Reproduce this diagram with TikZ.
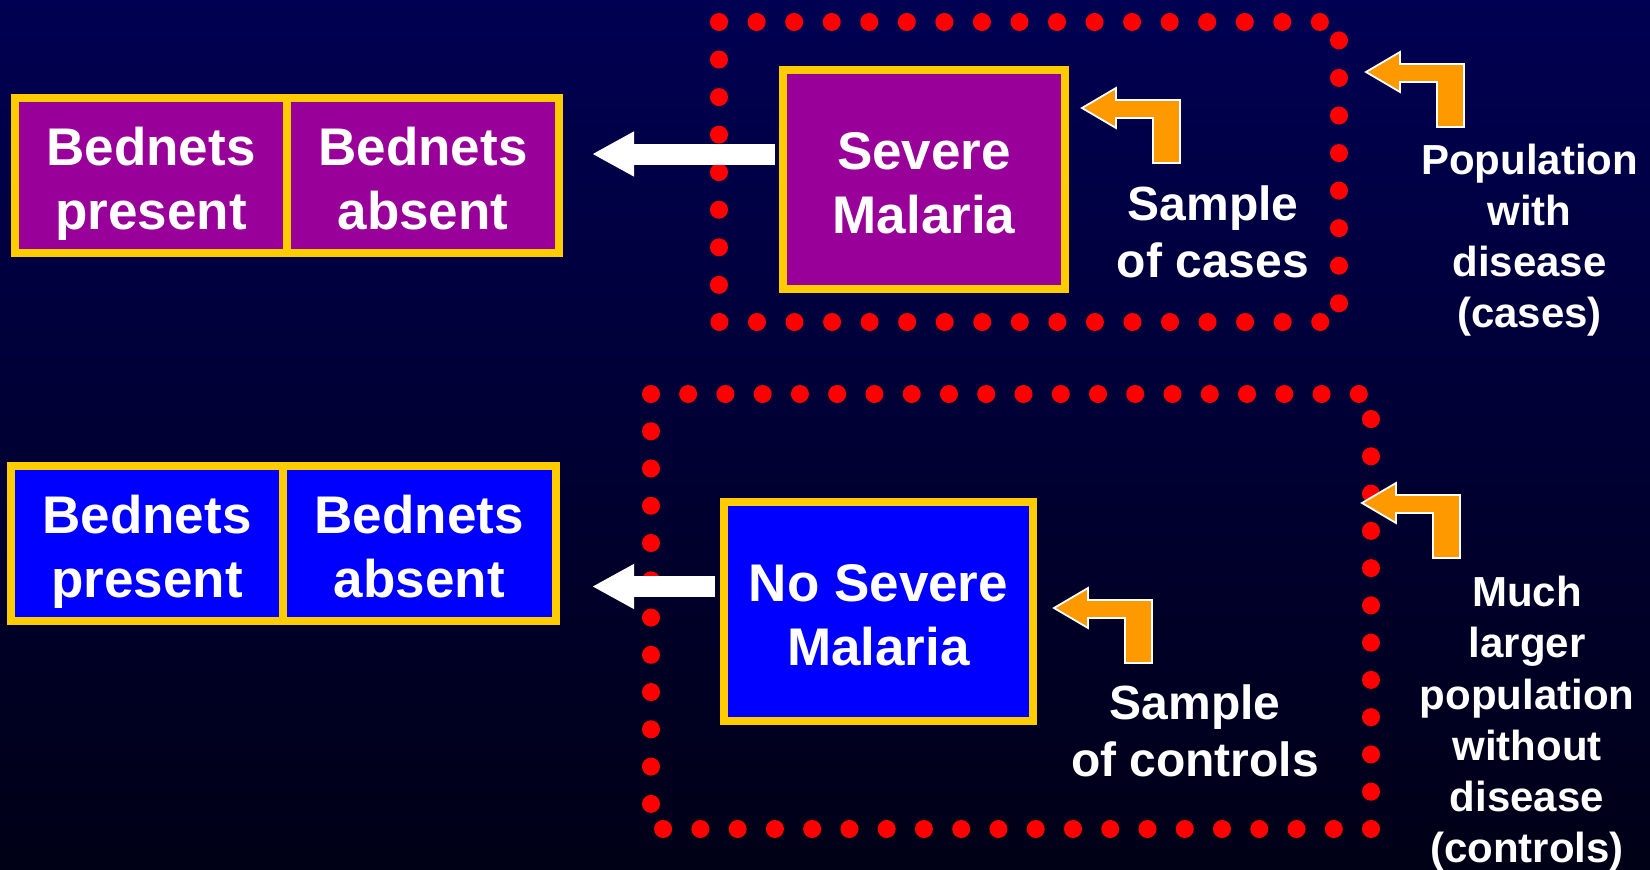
\documentclass[tikz,border=0pt]{standalone}
\usepackage{fontspec}
\setmainfont{Liberation Sans}
\usetikzlibrary{arrows.meta}
\definecolor{bgtop}{RGB}{0,0,82}
\definecolor{bgbot}{RGB}{0,0,22}
\definecolor{gold}{HTML}{FFCC00}
\definecolor{purp}{HTML}{990099}
\definecolor{blu}{HTML}{0000FF}
\definecolor{orng}{HTML}{FF9900}
\definecolor{dotred}{HTML}{FF0000}
\newcommand\lastline[1]{\smash{#1}}
\newcommand\firstline[1]{\rule{0pt}{44.5pt}#1}
\tikzset{
  boxtxt/.style={font=\fontsize{53}{64}\selectfont\bfseries, text=white, align=center},
  cellbox/.style={boxtxt, draw=gold, line width=8pt, inner sep=0pt, minimum height=155pt},
  bigbox/.style={boxtxt, draw=gold, line width=8pt, inner sep=0pt, minimum height=219pt},
  samplelbl/.style={font=\fontsize{48}{57.5}\selectfont\bfseries, text=white, align=center, inner sep=0pt},
  poplbl/.style={font=\fontsize{42}{51}\selectfont\bfseries, text=white, align=center, inner sep=0pt},
  reddots/.style={draw=dotred, line width=18pt, line cap=round},
  warrow/.style={draw=white, line width=21pt, -{Triangle[length=42pt,width=42pt]}},
  bent/.pic={\filldraw[fill=orng, draw=white, line width=1.8pt, line join=miter]
     (0,0) -- (34,-20) -- (34,-8) -- (98,-8) -- (98,55) -- (71,55) -- (71,10) -- (34,10) -- (34,20) -- cycle;}
}
\begin{document}
\begin{tikzpicture}[x=1pt,y=-1pt]
\useasboundingbox (0,0) rectangle (1650,870);
\shade[top color=bgtop, bottom color=bgbot] (0,0) rectangle (1650,870);

% dotted sample frames
\draw[reddots, dash pattern=on 0pt off 37.55pt] (719,22) rectangle (1339,322);
\draw[reddots, dash pattern=on 0pt off 37.26pt] (651,394) rectangle (1371,829);

% top row (cases)
\node[cellbox, fill=purp, minimum width=272pt] (tp1) at (151,175.5) {\firstline{Bednets}\\\lastline{present}};
\node[cellbox, fill=purp, minimum width=272pt] (tp2) at (423,175.5) {\firstline{Bednets}\\\lastline{absent}};
\node[bigbox, fill=purp, minimum width=282pt] (sm) at (924,179.5) {\firstline{Severe}\\\lastline{Malaria}};
\draw[warrow, shorten <=4.5pt, shorten >=29pt] (sm.west |- 0,154) -- (tp2.east |- 0,154);

% bottom row (controls)
\node[cellbox, fill=blu, minimum width=272pt] (bp1) at (147,543.5) {\firstline{Bednets}\\\lastline{present}};
\node[cellbox, fill=blu, minimum width=272.5pt] (bp2) at (419.25,543.5) {\firstline{Bednets}\\\lastline{absent}};
\node[bigbox, fill=blu, minimum width=309pt] (nsm) at (878.5,611.5) {\firstline{No Severe}\\\lastline{Malaria}};
\draw[warrow, shorten <=5pt, shorten >=32.5pt] (nsm.west |- 0,586.5) -- (bp2.east |- 0,586.5);

% bent arrows
\pic at (1082,108) {bent};
\pic at (1366,72) {bent};
\pic at (1054,608) {bent};
\pic at (1362,503) {bent};

% labels
\node[samplelbl] (lcases) at (1213,231.6) {Sample\\\lastline{of cases}};
\node[samplelbl] (lctrl) at (1195,730.6) {Sample\\\lastline{of controls}};
\node[poplbl] (lpop) at (1529.5,235.6) {Population\\with\\disease\\\lastline{(cases)}};
\node[poplbl, font=\fontsize{42}{51.3}\selectfont\bfseries] (lmuch) at (1527,719.5) {Much\\larger\\population\\without\\disease\\\lastline{(controls)}};
\end{tikzpicture}
\end{document}
